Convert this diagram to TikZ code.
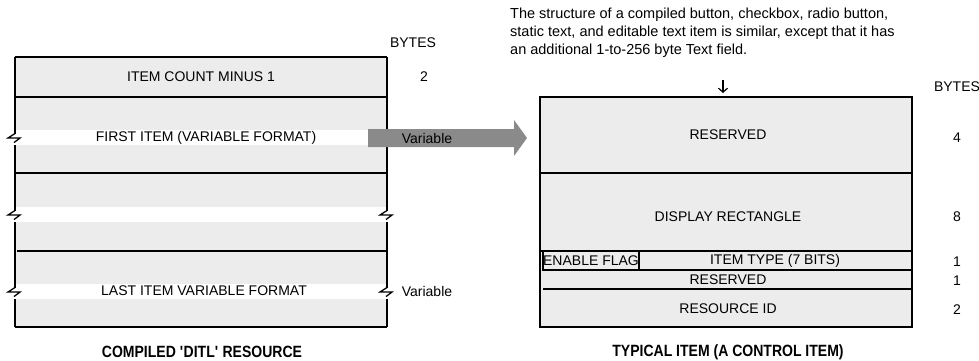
\documentclass[tikz,border=0pt]{standalone}
\usepackage{fontspec}
\setmainfont{Liberation Sans}
\newfontfamily\capfont[FakeStretch=0.86]{Liberation Sans}
\usetikzlibrary{arrows.meta}
\definecolor{boxgray}{RGB}{236,236,236}
\definecolor{arrgray}{RGB}{138,138,138}
\def\zig#1#2{\draw[edge] (#1,#2-4) -- (#1-7,#2+0.5) -- (#1+5,#2+0.5) -- (#1-1,#2+5);}

\begin{document}
\begin{tikzpicture}[x=1pt,y=-1pt,
    edge/.style={line width=1.3pt,line join=miter},
    lbl/.style={inner sep=0pt,font=\fontsize{14}{16}\selectfont},
    captext/.style={inner sep=0pt,font=\fontsize{16.3}{18}\capfont\bfseries}]
\useasboundingbox (0,0) rectangle (979,360);

% compiled DITL resource
\fill[boxgray] (15,57) rectangle (387,327);
\fill[white] (15,130) rectangle (387,145);
\fill[white] (15,207) rectangle (387,222);
\fill[white] (15,284) rectangle (387,299);
\draw[edge] (15,57) -- (387,57);
\draw[edge] (15,97) -- (387,97);
\draw[edge] (15,173) -- (387,173);
\draw[edge] (17,251) -- (387,251);
\draw[edge] (15,327) -- (387,327);
\draw[edge] (15,57) -- (15,133.5);
\zig{15}{137.5}
\draw[edge] (15,145) -- (15,210.5);
\zig{15}{214.5}
\draw[edge] (15,222) -- (15,287.5);
\zig{15}{291.5}
\draw[edge] (15,299) -- (15,327);
\draw[edge] (387,57) -- (387,210.5);
\zig{387}{214.5}
\draw[edge] (387,222) -- (387,287.5);
\zig{387}{291.5}
\draw[edge] (387,299) -- (387,327);

\node[lbl] (count) at (201,77) {ITEM COUNT MINUS 1};
\node[lbl] (first) at (206,138) {FIRST ITEM (VARIABLE FORMAT)};
\node[lbl] (last) at (204,291) {LAST ITEM VARIABLE FORMAT};
\node[lbl] (bytesl) at (413,43) {BYTES};
\node[lbl] (nl) at (424,77) {2};
\node[lbl] (varb) at (427,291) {Variable};
\node[captext] (capl) at (202,352) {COMPILED \textquotesingle DITL\textquotesingle{} RESOURCE};

% arrow to the typical item
\fill[arrgray] (368,129) -- (514,129) -- (514,120) -- (527,138) -- (514,156) -- (514,147) -- (368,147) -- cycle;
\node[lbl] (vara) at (427,138) {Variable};

% typical item
\fill[boxgray] (540,97) rectangle (912,327);
\draw[edge] (540,97) rectangle (912,327);
\draw[edge] (540,173) -- (912,173);
\draw[edge] (540,251) -- (912,251);
\draw[edge] (543,251) rectangle (639,270);
\draw[edge] (543,270) -- (912,270);
\draw[edge] (543,289) -- (912,289);

\node[lbl,anchor=north west,align=left,font=\fontsize{14.5}{18}\selectfont] (note) at (510,8)
  {The structure of a compiled button, checkbox, radio button,\\
   static text, and editable text item is similar, except that it has\\
   an additional 1-to-256 byte Text field.};
\coordinate (dn) at (723,80);
\coordinate (top) at (723,93);
\draw[line width=1.2pt,-{Straight Barb[length=4pt,width=9pt]}] (dn) -- (top);

\node[lbl] (bytesr) at (957,87) {BYTES};
\node[lbl] (res) at (728,135) {RESERVED};
\node[lbl] (n4) at (957,138) {4};
\node[lbl] (disp) at (728,217) {DISPLAY RECTANGLE};
\node[lbl] (n8) at (957,217) {8};
\node[lbl] (flag) at (591,261) {ENABLE FLAG};
\node[lbl] (type) at (775,261) {ITEM TYPE (7 BITS)};
\node[lbl] (n1a) at (957,262) {1};
\node[lbl] (res2) at (728,280) {RESERVED};
\node[lbl] (n1b) at (957,281) {1};
\node[lbl] (rid) at (728,309) {RESOURCE ID};
\node[lbl] (n2) at (957,310) {2};
\node[captext] (capr) at (728,352) {TYPICAL ITEM (A CONTROL ITEM)};
\end{tikzpicture}
\end{document}
